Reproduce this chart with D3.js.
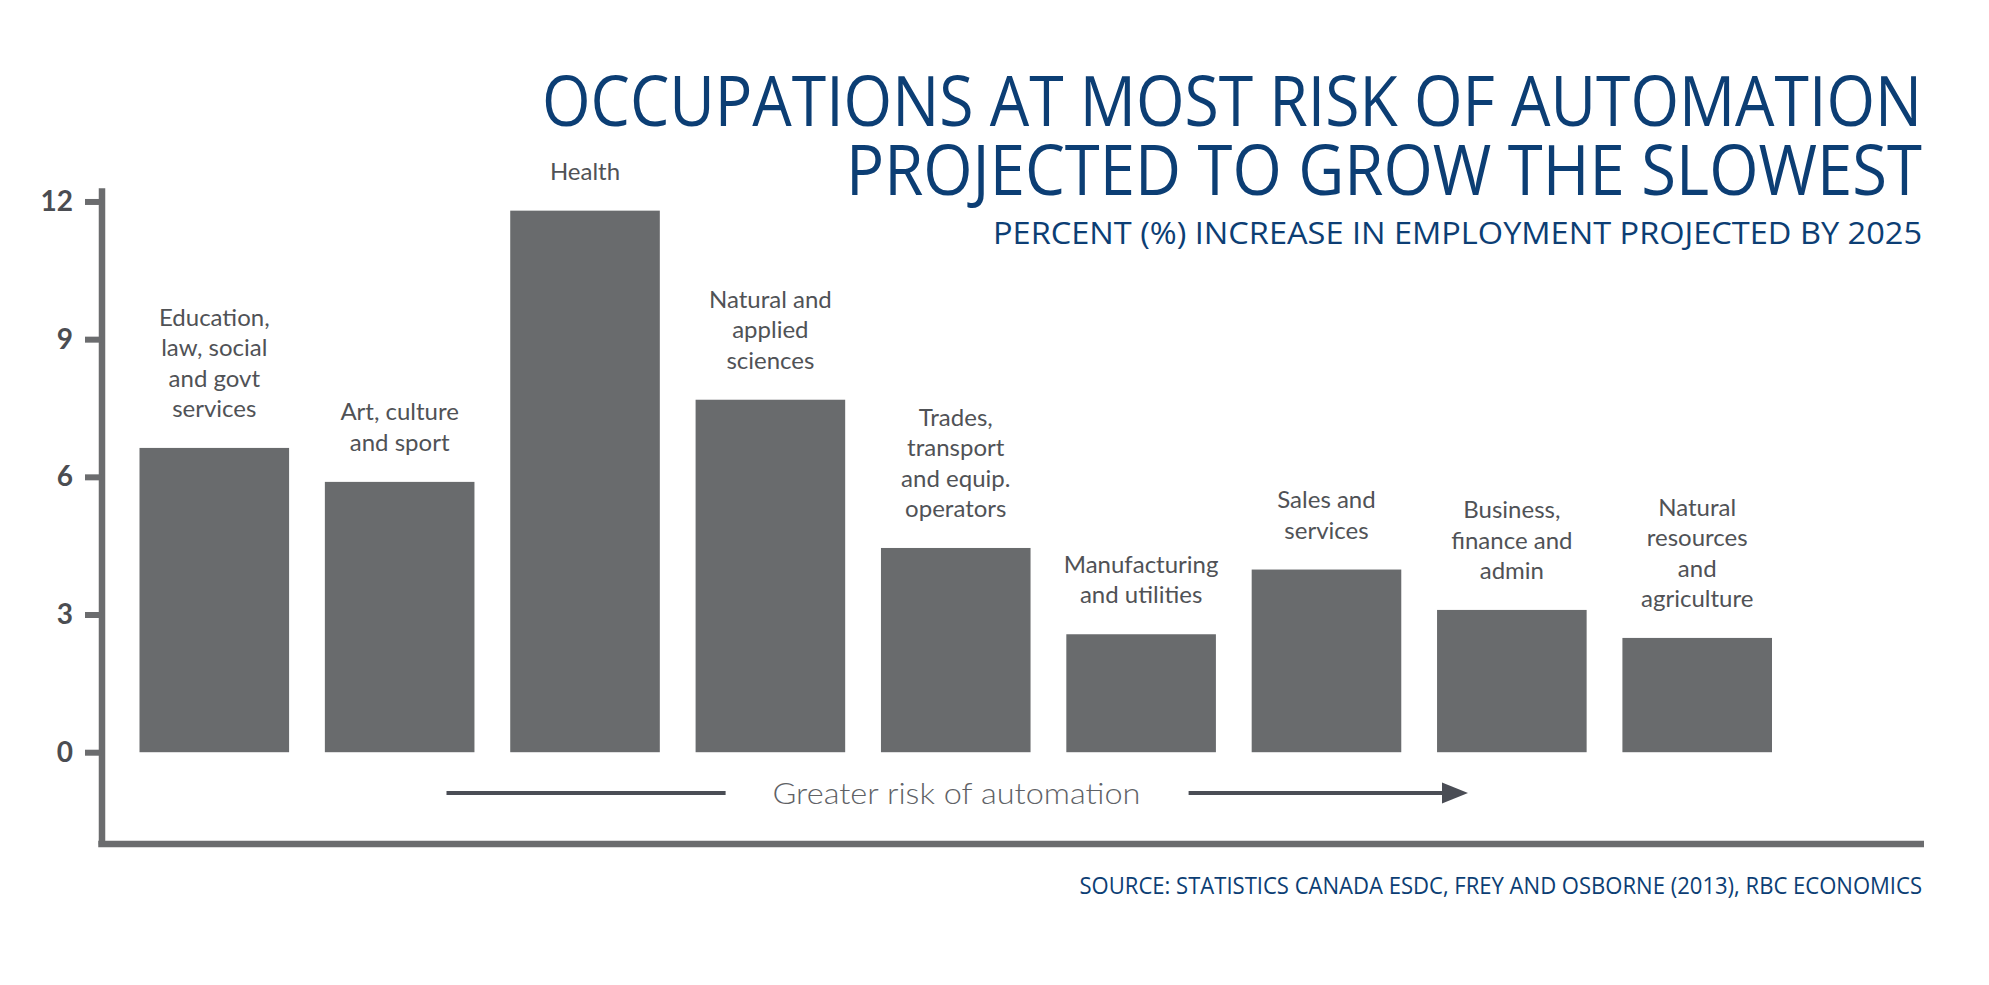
<!DOCTYPE html>
<html>
<head>
<meta charset="utf-8">
<script src="https://cdn.jsdelivr.net/npm/d3@7"></script>
<style>
  body { margin: 0; background: #fff; }
  svg { display: block; }
</style>
</head>
<body>
<svg></svg>
<script>
//the data
var categories = ['Education', 'Art', 'Health', 'Sciences', 'Trades', 'Manufacturing', 'Sales', 'Business', 'Resources'];
var labelLines = [
  ['Education,', 'law, social', 'and govt', 'services'],
  ['Art, culture', 'and sport'],
  ['Health'],
  ['Natural and', 'applied', 'sciences'],
  ['Trades,', 'transport', 'and equip.', 'operators'],
  ['Manufacturing', 'and utilities'],
  ['Sales and', 'services'],
  ['Business,', 'finance and', 'admin'],
  ['Natural', 'resources', 'and', 'agriculture']
];
var growth = [6.63, 5.89, 11.8, 7.68, 4.45, 2.57, 3.98, 3.1, 2.49];
var yTicks = [0, 3, 6, 9, 12];
var titleLines = ['OCCUPATIONS AT MOST RISK OF AUTOMATION', 'PROJECTED TO GROW THE SLOWEST'];
var subtitle = 'PERCENT (%) INCREASE IN EMPLOYMENT PROJECTED BY 2025';
var sourceText = 'SOURCE: STATISTICS CANADA ESDC, FREY AND OSBORNE (2013), RBC ECONOMICS';
var arrowText = 'Greater risk of automation';

var W = 1989, H = 985;
var axisX = 101.5, rightEdge = 1922;
var grey = '#6b6c6e', navy = '#0c3e74';

var svg = d3.select('svg')
  .attr('width', W)
  .attr('height', H);

//scales: the y axis runs a little below zero down to the base line
var y = d3.scaleLinear()
  .domain([-2, 12.3])
  .range([844, 187.7]);

var x = d3.scaleBand()
  .domain(categories)
  .range([139.5, 1772])
  .paddingInner(0.193)
  .paddingOuter(0);

//bars
svg.selectAll('.bar')
  .data(growth)
  .enter().append('rect')
  .attr('class', 'bar')
  .attr('x', function(d, i) { return x(categories[i]); })
  .attr('y', function(d) { return y(d); })
  .attr('width', x.bandwidth())
  .attr('height', function(d) { return y(0) - y(d); })
  .style('fill', '#696b6d');

//labels above bars
var lineH = 30.4, gap = 31;
var labels = svg.selectAll('.lbl')
  .data(labelLines)
  .enter().append('text')
  .attr('class', 'lbl')
  .attr('text-anchor', 'middle')
  .style('font-family', 'Lato, "Open Sans", sans-serif')
  .style('font-size', '24px')
  .style('fill', '#505256');

labels.each(function(lines, i) {
  var cx = x(categories[i]) + x.bandwidth() / 2;
  var base = y(growth[i]) - gap - (lines.length - 1) * lineH;
  d3.select(this).selectAll('tspan')
    .data(lines)
    .enter().append('tspan')
    .attr('x', cx)
    .attr('y', function(d, j) { return base + j * lineH; })
    .text(function(d) { return d; });
});

//y axis
var yAxis = svg.append('g')
  .attr('transform', 'translate(' + axisX + ',0)')
  .call(d3.axisLeft(y).tickValues(yTicks).tickSize(16.5).tickSizeOuter(0).tickPadding(12));

yAxis.select('.domain')
  .style('stroke', grey)
  .style('stroke-width', 6.5);
yAxis.selectAll('.tick line')
  .style('stroke', grey)
  .style('stroke-width', 6);
yAxis.selectAll('.tick text')
  .style('font-family', 'Lato, "Open Sans", sans-serif')
  .style('font-weight', 'bold')
  .style('font-size', '28px')
  .style('fill', '#4b4d52');

//base line
svg.append('line')
  .attr('x1', axisX - 3.25)
  .attr('x2', 1924)
  .attr('y1', y(-2))
  .attr('y2', y(-2))
  .style('stroke', grey)
  .style('stroke-width', 6.5);

//risk arrow
var arrowY = 793;
svg.append('line')
  .attr('x1', 446.5).attr('x2', 725.6)
  .attr('y1', arrowY).attr('y2', arrowY)
  .style('stroke', '#4a4d55').style('stroke-width', 4);
svg.append('line')
  .attr('x1', 1188.6).attr('x2', 1446)
  .attr('y1', arrowY).attr('y2', arrowY)
  .style('stroke', '#4a4d55').style('stroke-width', 4);
svg.append('path')
  .attr('d', 'M1442,' + (arrowY - 10.5) + 'L1468,' + arrowY + 'L1442,' + (arrowY + 10.5) + 'Z')
  .style('fill', '#4a4d55');
svg.append('text')
  .attr('x', 956.5)
  .attr('y', arrowY + 10.5)
  .attr('text-anchor', 'middle')
  .attr('textLength', 368)
  .attr('lengthAdjust', 'spacingAndGlyphs')
  .style('font-family', 'Lato, "Open Sans", sans-serif')
  .style('font-weight', 300)
  .style('font-size', '30px')
  .style('fill', '#606266')
  .text(arrowText);

//titles
var titleBase = [125.6, 195];
var titleWidth = [1380, 1076];
svg.selectAll('.title')
  .data(titleLines)
  .enter().append('text')
  .attr('class', 'title')
  .attr('x', rightEdge)
  .attr('y', function(d, i) { return titleBase[i]; })
  .attr('text-anchor', 'end')
  .attr('textLength', function(d, i) { return titleWidth[i]; })
  .attr('lengthAdjust', 'spacingAndGlyphs')
  .style('font-family', '"Open Sans", sans-serif')
  .style('font-size', '69px')
  .style('fill', navy)
  .text(function(d) { return d; });

svg.append('text')
  .attr('x', rightEdge)
  .attr('y', 243.5)
  .attr('text-anchor', 'end')
  .attr('textLength', 929)
  .attr('lengthAdjust', 'spacingAndGlyphs')
  .style('font-family', '"Open Sans", sans-serif')
  .style('font-size', '31px')
  .style('fill', navy)
  .text(subtitle);

svg.append('text')
  .attr('x', rightEdge)
  .attr('y', 894)
  .attr('text-anchor', 'end')
  .attr('textLength', 842.5)
  .attr('lengthAdjust', 'spacingAndGlyphs')
  .style('font-family', '"Open Sans", sans-serif')
  .style('font-size', '23px')
  .style('fill', navy)
  .text(sourceText);
</script>
</body>
</html>
